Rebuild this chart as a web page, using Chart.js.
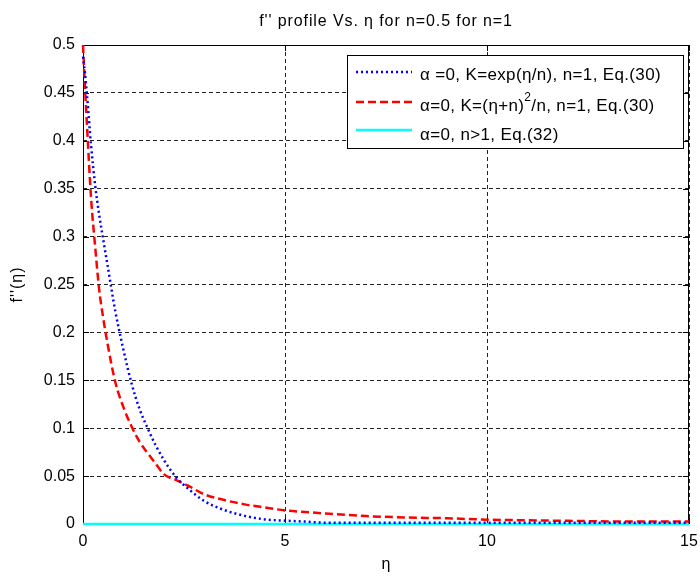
<!DOCTYPE html>
<html>
<head>
<meta charset="utf-8">
<script src="https://cdn.jsdelivr.net/npm/chart.js@4.4.1/dist/chart.umd.min.js"></script>
<style>
  html, body { margin: 0; padding: 0; background: #fff; }
  #wrap { width: 700px; height: 576px; position: relative; }
</style>
</head>
<body>
<div id="wrap"><canvas id="profileChart"></canvas></div>
<script>
// values
const etaValues = [0, 0.05, 0.1, 0.2, 0.3, 0.4, 0.5, 0.6, 0.8, 1, 1.2, 1.4, 1.6, 1.8, 2, 2.3, 2.6, 3, 3.5, 4, 4.5, 5, 5.5, 6, 7, 8, 9, 10, 11, 12, 13, 14, 15];
const expKValues = [0.488, 0.47, 0.447, 0.395, 0.354, 0.323, 0.297, 0.272, 0.222, 0.182, 0.147, 0.12, 0.1, 0.082, 0.067, 0.049, 0.037, 0.024, 0.0145, 0.0085, 0.0048, 0.0035, 0.0025, 0.0013, 0.0012, 0.0012, 0.0012, 0.0012, 0.0012, 0.0012, 0.0012, 0.0012, 0.0012];
const powKValues = [0.5, 0.455, 0.415, 0.34, 0.29, 0.245, 0.215, 0.19, 0.148, 0.122, 0.102, 0.086, 0.074, 0.063, 0.052, 0.046, 0.04, 0.031, 0.025, 0.0205, 0.0172, 0.0142, 0.0125, 0.011, 0.0083, 0.0068, 0.006, 0.0045, 0.0039, 0.0033, 0.0027, 0.0025, 0.0025];
const nGreaterEta = [0, 15];
const nGreaterValues = [0, 0];

const xTickLabels = ['0', '5', '10', '15'];
const yTickLabels = ['0', '0.05', '0.1', '0.15', '0.2', '0.25', '0.3', '0.35', '0.4', '0.45', '0.5'];

const chartTitle = 'f\'\' profile Vs. \u03b7 for n=0.5 for n=1';
const xTitle = '\u03b7';
const yTitle = 'f\'\'(\u03b7)';

const FONT = '"Liberation Sans", Arial, Helvetica, sans-serif';

function toPoints(xs, ys) {
    return xs.map((x, i) => ({ x: x, y: ys[i] }));
}

// box and inward ticks go under the curves (cyan line sits on the bottom edge)
const matlabFrame = {
    id: 'matlabFrame',
    beforeDatasetsDraw(chart) {
        const ctx = chart.ctx;
        const a = chart.chartArea;
        const xs = chart.scales.x, ys = chart.scales.y;
        ctx.save();
        ctx.setLineDash([]);
        ctx.strokeStyle = '#000';
        ctx.lineWidth = 1;
        ctx.strokeRect(a.left + 0.5, a.top + 0.5, a.right - a.left - 1, a.bottom - a.top);
        ctx.beginPath();
        xs.ticks.forEach(t => {
            const px = Math.round(xs.getPixelForValue(t.value)) + 0.5;
            ctx.moveTo(px, a.bottom); ctx.lineTo(px, a.bottom - 6);
            ctx.moveTo(px, a.top); ctx.lineTo(px, a.top + 6);
        });
        ys.ticks.forEach(t => {
            const py = Math.round(ys.getPixelForValue(t.value)) + 0.5;
            ctx.moveTo(a.left, py); ctx.lineTo(a.left + 6, py);
            ctx.moveTo(a.right, py); ctx.lineTo(a.right - 6, py);
        });
        ctx.stroke();
        ctx.restore();
    }
};

// titles and legend
const matlabText = {
    id: 'matlabText',
    afterDraw(chart) {
        const ctx = chart.ctx;
        const a = chart.chartArea;
        ctx.save();
        ctx.fillStyle = '#000';
        ctx.strokeStyle = '#000';
        ctx.lineWidth = 1;
        ctx.textAlign = 'center';
        ctx.textBaseline = 'middle';
        ctx.font = '16px ' + FONT;
        ctx.letterSpacing = '0.9px';
        ctx.fillText(chartTitle, (a.left + a.right) / 2, 22);
        ctx.letterSpacing = '0px';
        ctx.font = '16px ' + FONT;
        ctx.fillText(xTitle, (a.left + a.right) / 2, 565);
        ctx.save();
        ctx.translate(18, (a.top + a.bottom) / 2);
        ctx.rotate(-Math.PI / 2);
        ctx.letterSpacing = '1px';
        ctx.fillText(yTitle, 0, 0);
        ctx.restore();

        // legend box
        const bx = 347, by = 55, bw = 336, bh = 93;
        ctx.fillStyle = '#fff';
        ctx.fillRect(bx, by, bw, bh);
        ctx.strokeRect(bx + 0.5, by + 0.5, bw, bh);
        const lineY = [72, 102, 130];
        const textY = [75, 106, 135];
        ctx.textAlign = 'left';
        ctx.letterSpacing = '0.35px';
        chart.data.datasets.forEach((ds, i) => {
            ctx.save();
            ctx.strokeStyle = ds.borderColor;
            ctx.lineWidth = ds.borderWidth;
            ctx.setLineDash(ds.borderDash || []);
            ctx.beginPath();
            ctx.moveTo(356, lineY[i]);
            ctx.lineTo(412, lineY[i]);
            ctx.stroke();
            ctx.restore();
            ctx.fillStyle = '#000';
            let x = 420;
            ds.legendParts.forEach(part => {
                ctx.font = (part.sup ? '12px ' : '17px ') + FONT;
                ctx.fillText(part.text, x, part.sup ? textY[i] - 8 : textY[i]);
                x += ctx.measureText(part.text).width;
            });
        });
        ctx.restore();
    }
};

const ctx = document.getElementById('profileChart').getContext('2d');
new Chart(ctx, {
    type: 'line',
    data: {
        datasets: [{
            label: '\u03b1 =0, K=exp(\u03b7/n), n=1, Eq.(30)',
            legendParts: [{ text: '\u03b1 =0, K=exp(\u03b7/n), n=1, Eq.(30)' }],
            data: toPoints(etaValues, expKValues),
            borderColor: '#0000ff',
            borderWidth: 2.5,
            borderDash: [2, 3],
            cubicInterpolationMode: 'monotone'
        }, {
            label: '\u03b1=0, K=(\u03b7+n)2/n, n=1, Eq.(30)',
            legendParts: [{ text: '\u03b1=0, K=(\u03b7+n)' }, { text: '2', sup: true }, { text: '/n, n=1, Eq.(30)' }],
            data: toPoints(etaValues, powKValues),
            borderColor: '#ff0000',
            borderWidth: 2.5,
            borderDash: [8, 4],
            cubicInterpolationMode: 'monotone'
        }, {
            label: '\u03b1=0, n>1, Eq.(32)',
            legendParts: [{ text: '\u03b1=0, n>1, Eq.(32)' }],
            data: toPoints(nGreaterEta, nGreaterValues),
            borderColor: '#00ffff',
            borderWidth: 2.5
        }]
    },
    options: {
        responsive: true,
        maintainAspectRatio: false,
        animation: false,
        clip: false,
        elements: { point: { radius: 0 } },
        layout: { padding: { top: 45, right: 11, left: 0, bottom: 0 } },
        plugins: {
            legend: { display: false },
            tooltip: { enabled: false }
        },
        scales: {
            x: {
                type: 'linear',
                min: 0,
                max: 15,
                afterFit: s => { s.height = 52; s.paddingLeft = 0; s.paddingRight = 0; },
                ticks: {
                    stepSize: 5,
                    padding: 8,
                    color: '#000',
                    font: { family: FONT, size: 16 },
                    callback: (v, i) => xTickLabels[i]
                },
                grid: { color: '#222', lineWidth: 1, drawTicks: false },
                border: { display: false, dash: [4, 3] }
            },
            y: {
                min: 0,
                max: 0.5,
                afterFit: s => { s.width = 83; s.paddingTop = 0; s.paddingBottom = 0; },
                ticks: {
                    stepSize: 0.05,
                    padding: 8,
                    color: '#000',
                    font: { family: FONT, size: 16 },
                    callback: (v, i) => yTickLabels[i]
                },
                grid: { color: '#222', lineWidth: 1, drawTicks: false },
                border: { display: false, dash: [4, 3] }
            }
        }
    },
    plugins: [matlabFrame, matlabText]
});
</script>
</body>
</html>
